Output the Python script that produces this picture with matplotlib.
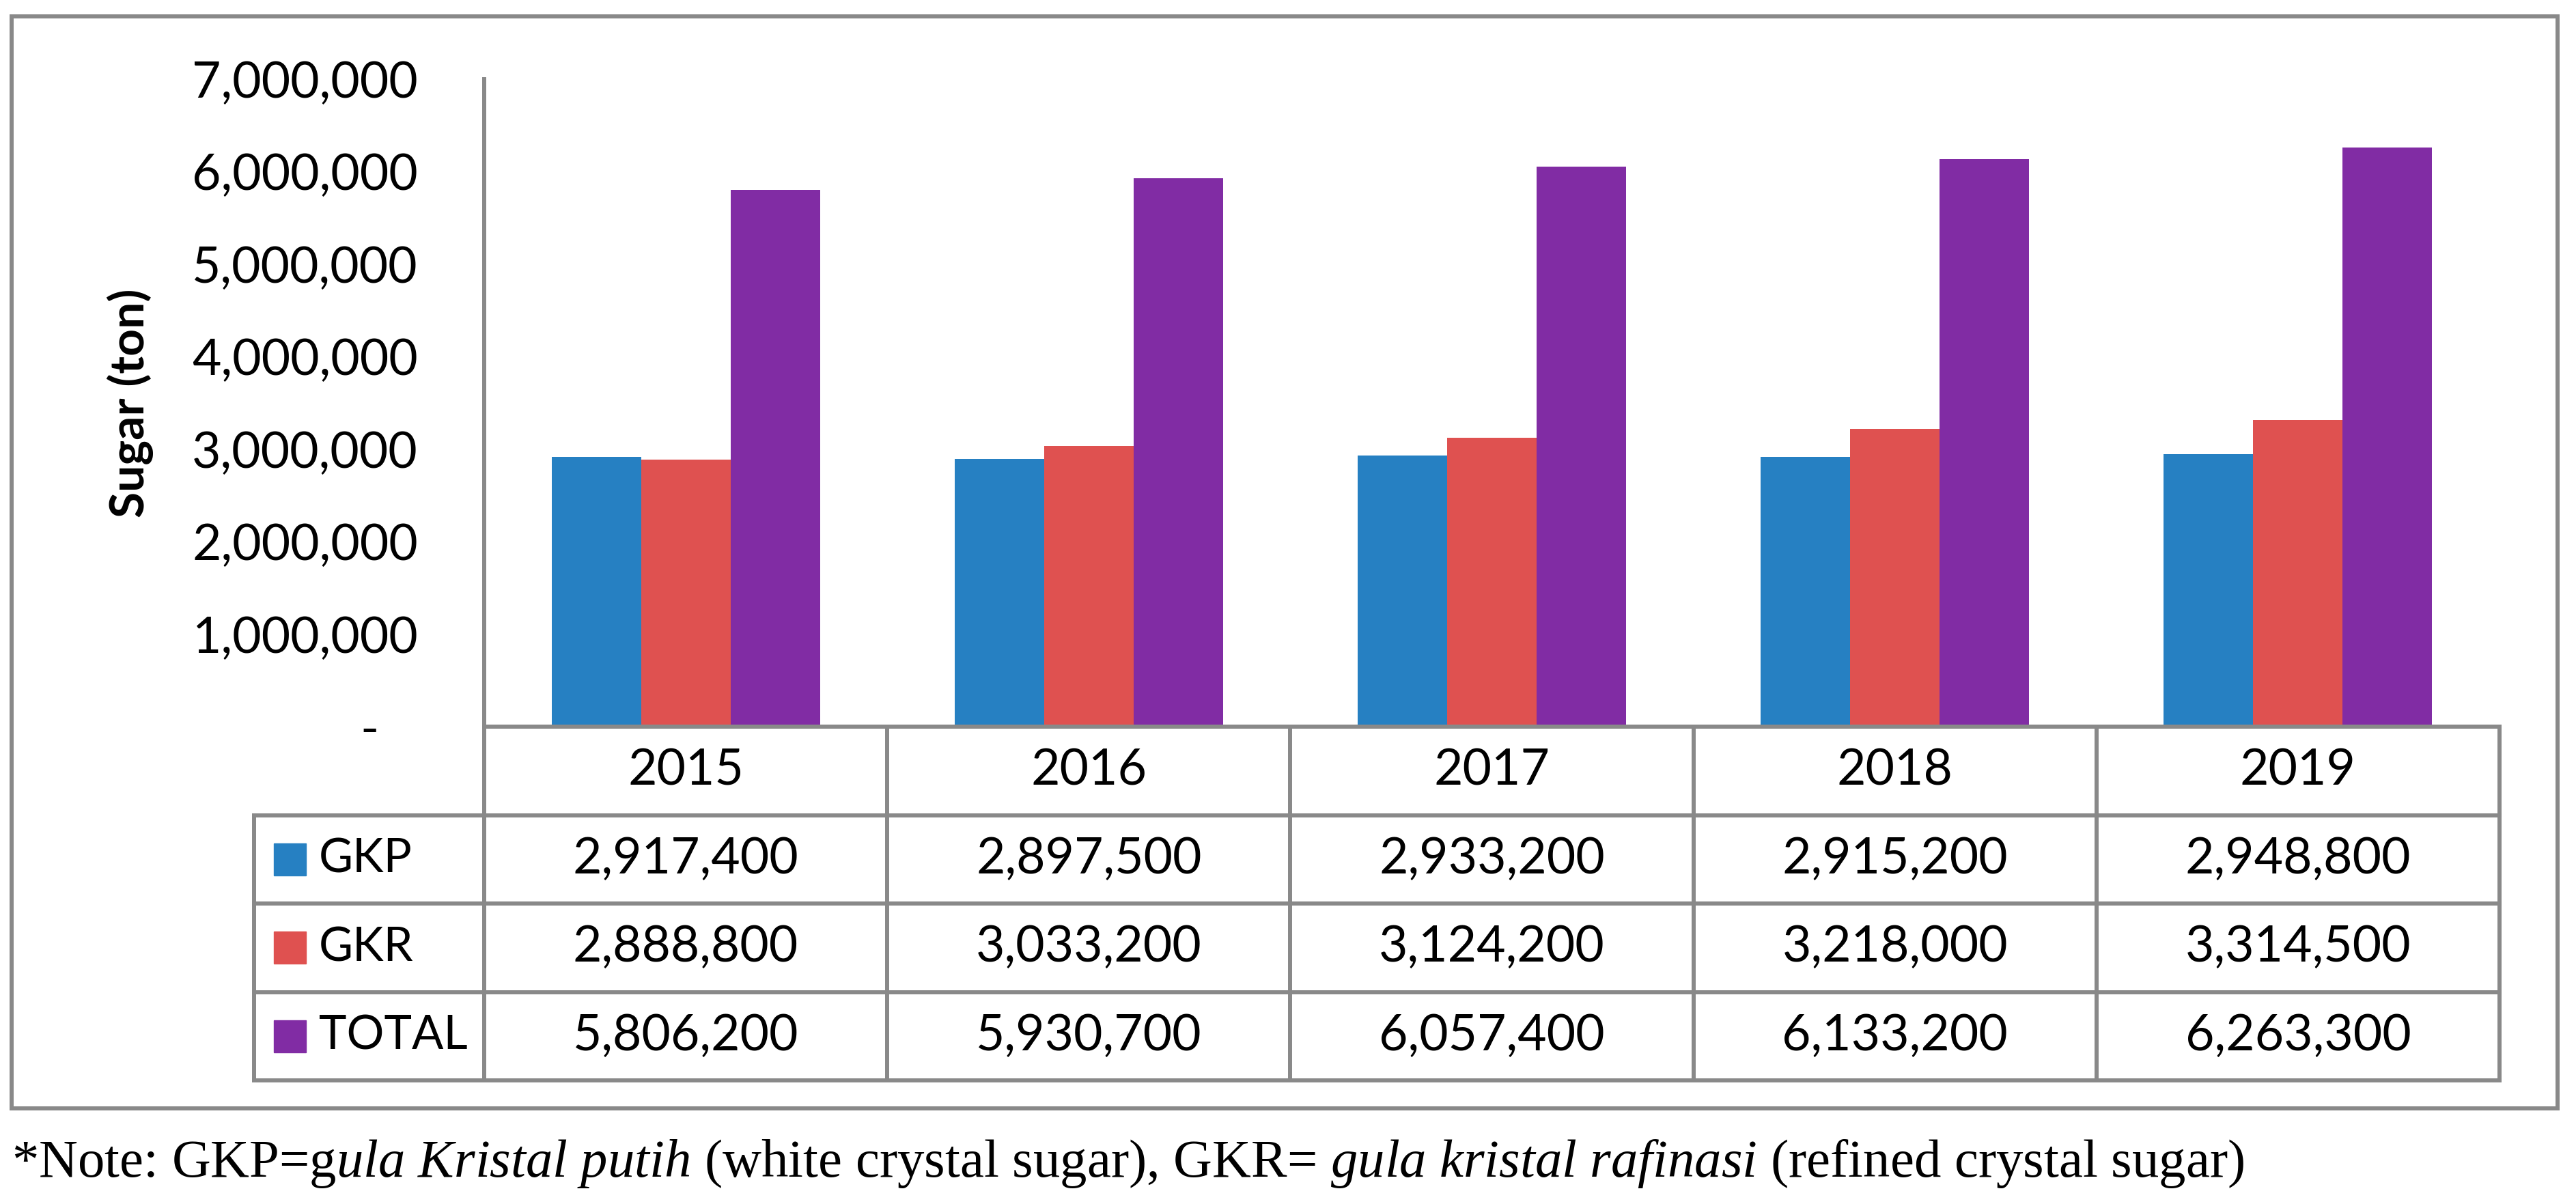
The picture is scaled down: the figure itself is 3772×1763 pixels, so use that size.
import matplotlib
matplotlib.use("Agg")
import matplotlib.pyplot as plt
from matplotlib.patches import Rectangle
from matplotlib.ticker import FuncFormatter
import numpy as np

#===== DATA =====#
years = ["2015", "2016", "2017", "2018", "2019"]
series = ["GKP", "GKR", "TOTAL"]
gkp = [2917400, 2897500, 2933200, 2915200, 2948800]
gkr = [2888800, 3033200, 3124200, 3218000, 3314500]
total = [5806200, 5930700, 6057400, 6133200, 6263300]
yticks = [0, 1000000, 2000000, 3000000, 4000000, 5000000, 6000000, 7000000]
note = ("*Note: GKP=g$\\mathit{ula\\ Kristal\\ putih}$ (white crystal sugar), "
        "GKR= $\\mathit{gula\\ kristal\\ rafinasi}$ (refined crystal sugar)")

colors = ["#2680C2", "#DF5150", "#812CA4"]
grey = "#898989"
W, H = 3772, 1763

plt.rcParams["font.family"] = ["Lato", "DejaVu Sans"]
plt.rcParams["mathtext.fontset"] = "custom"
plt.rcParams["mathtext.rm"] = "Liberation Serif"
plt.rcParams["mathtext.it"] = "Liberation Serif:italic"

fig = plt.figure(figsize=(W / 100, H / 100), dpi=100)
renderer = fig.canvas.get_renderer()


def fit_size(txt, target_px, **kw):
    """font size that makes txt target_px wide"""
    t = fig.text(0, 0, txt, fontsize=50, **kw)
    w = t.get_window_extent(renderer).width
    t.remove()
    return 50 * target_px / w


num_fs = fit_size("7,000,000", 331)
lab_fs = fit_size("TOTAL", 218)
note_fs = fit_size(note, 3273, family="Liberation Serif")

# pixel geometry of the layout
x_axis, x_right, x_tab = 709, 3660, 372
y_zero, y_top, y_tab = 1064, 116, 1582
colw = (x_right - x_axis) / 5
lw = 4.3

ax = fig.add_axes([x_axis / W, 1 - y_zero / H, (x_right - x_axis) / W, (y_zero - y_top) / H])
x = np.arange(len(years))
bw = 0.222
for k, vals in enumerate([gkp, gkr, total]):
    ax.bar(x + (k - 1) * bw, vals, width=bw, color=colors[k], zorder=2)
ax.set_xlim(-0.5, 4.5)
ax.set_ylim(0, 7000000)
ax.set_yticks(yticks)
ax.yaxis.set_major_formatter(FuncFormatter(lambda v, p: "-   " if v == 0 else f"{int(v):,}"))
ax.tick_params(axis="y", length=0, pad=70, labelsize=num_fs)
ax.set_xticks([])
for s in ["top", "right", "bottom"]:
    ax.spines[s].set_visible(False)
ax.spines["left"].set_color(grey)
ax.spines["left"].set_linewidth(lw)
ax.set_ylabel("Sugar (ton)", fontsize=50, fontweight="bold", labelpad=40)

# data table under the plot
tab = fig.add_axes([x_tab / W, 1 - y_tab / H, (x_right - x_tab) / W, (y_tab - y_zero) / H])
xl = -0.5 - (x_axis - x_tab) / colw
tab.set_xlim(xl, 4.5)
tab.set_ylim(4, 0)
tab.axis("off")
tab.plot([-0.5, 4.5], [0, 0], color=grey, lw=lw, clip_on=False)
for r in range(1, 5):
    tab.plot([xl, 4.5], [r, r], color=grey, lw=lw, clip_on=False)
tab.plot([xl, xl], [1, 4], color=grey, lw=lw, clip_on=False)
for c in range(6):
    tab.plot([c - 0.5, c - 0.5], [0, 4], color=grey, lw=lw, clip_on=False)

for c, yr in enumerate(years):
    tab.text(c, 0.5, yr, ha="center", va="center", fontsize=num_fs)
for r, (name, vals) in enumerate(zip(series, [gkp, gkr, total])):
    for c, v in enumerate(vals):
        tab.text(c, r + 1.5, f"{v:,}", ha="center", va="center", fontsize=num_fs)
    sq_w = 47 / colw
    tab.add_patch(Rectangle((-0.5 - (x_axis - 401) / colw, r + 1.5 - 0.18), sq_w, 0.36,
                            color=colors[r], clip_on=False))
    tab.text(-0.5 - (x_axis - 467) / colw, r + 1.5, name, ha="left", va="center", fontsize=lab_fs)

# outer chart frame
fig.patches.append(Rectangle((17 / W, 1 - 1623 / H), (3745 - 17) / W, (1623 - 24) / H,
                             transform=fig.transFigure, fill=False, edgecolor=grey, lw=lw))

fig.text(17 / W, 1 - 1723 / H, note, ha="left", va="baseline", fontsize=note_fs,
         family="Liberation Serif")

fig.savefig("out.png", dpi=100)
